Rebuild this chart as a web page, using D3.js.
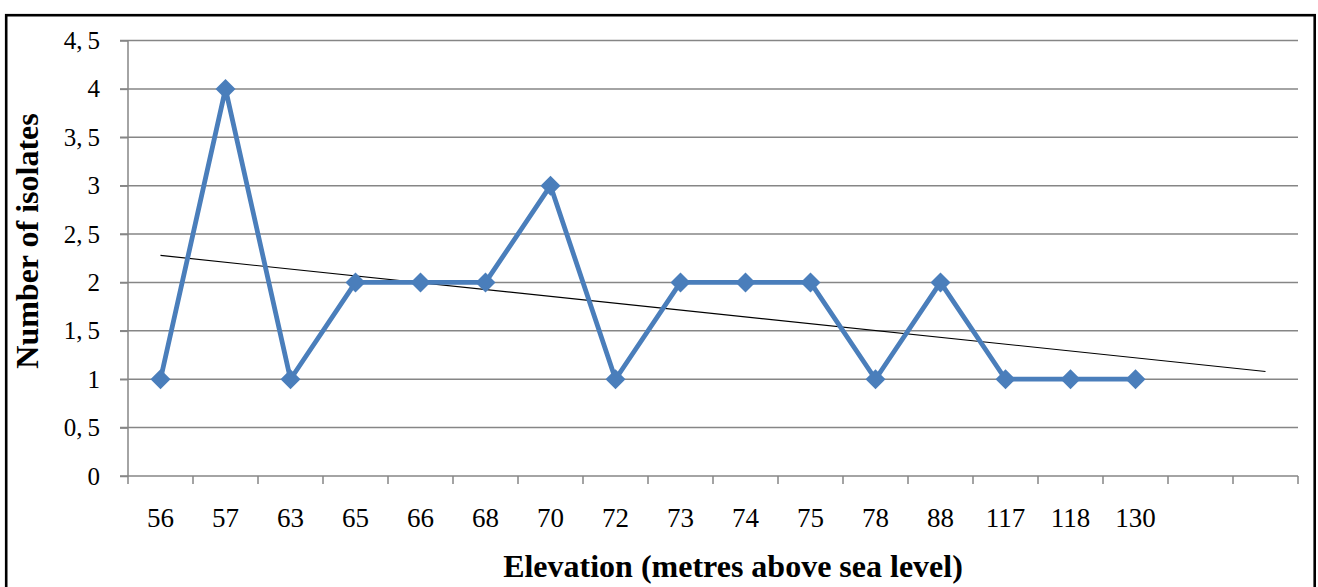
<!DOCTYPE html>
<html><head><meta charset="utf-8">
<script src="https://cdn.jsdelivr.net/npm/d3@7"></script>
<style>body{margin:0;background:#fff}svg{display:block}</style>
</head><body>
<script>
const categories = ["56","57","63","65","66","68","70","72","73","74","75","78","88","117","118","130","",""];
const isolates = [1,4,1,2,2,2,3,1,2,2,2,1,2,1,1,1];
const yTicks = [0,0.5,1,1.5,2,2.5,3,3.5,4,4.5];
const yLabel = "Number of isolates";
const xLabel = "Elevation (metres above sea level)";

const W = 1318, H = 587;
const svg = d3.select("body").append("svg").attr("width", W).attr("height", H);
const m = {l:128, r:1298, t:40.5, b:476};
const font = "'Liberation Serif','Times New Roman',serif";

svg.append("rect").attr("x",6.2).attr("y",15.2).attr("width",1308.5).attr("height",620)
  .attr("fill","none").attr("stroke","#000").attr("stroke-width",2.6);

const x = d3.scaleBand().domain(d3.range(categories.length)).range([m.l, m.r]);
const y = d3.scaleLinear().domain([0,4.5]).range([m.b, m.t]);

// gridlines
svg.append("g").selectAll("line").data(yTicks.filter(d=>d>0)).join("line")
  .attr("x1", m.l-8).attr("x2", m.r).attr("y1", d=>y(d)).attr("y2", d=>y(d))
  .attr("stroke","#868686").attr("stroke-width",1.5);

// y axis
const ya = svg.append("g").attr("transform",`translate(${m.l},0)`)
  .call(d3.axisLeft(y).tickValues(yTicks).tickSize(8).tickPadding(20)
        .tickFormat(d=>String(d).replace(".",",\u2009")));
ya.select(".domain").attr("stroke","#868686").attr("stroke-width",1.5).attr("d",`M0,${m.t}V${m.b}`);
ya.selectAll(".tick line").attr("stroke","#868686").attr("stroke-width",1.5);
ya.selectAll("text").attr("font-family",font).attr("font-size",25).attr("fill","#000");

// x axis
const xa = svg.append("g").attr("transform",`translate(0,${m.b})`);
xa.append("line").attr("x1",m.l-8).attr("x2",m.r).attr("stroke","#868686").attr("stroke-width",1.5);
const edges = d3.range(categories.length+1).map(i => m.l + i*x.step());
xa.selectAll("line.t").data(edges).join("line").attr("class","t")
  .attr("x1",d=>d).attr("x2",d=>d).attr("y1",0).attr("y2",8)
  .attr("stroke","#868686").attr("stroke-width",1.5);
xa.selectAll("text").data(categories).join("text")
  .attr("x",(d,i)=>x(i)+x.bandwidth()/2).attr("y",51)
  .attr("text-anchor","middle").attr("font-family",font).attr("font-size",27).text(d=>d);

// trend line (least squares over data)
const n = isolates.length;
const xs = d3.range(1,n+1);
const mx = d3.mean(xs), my = d3.mean(isolates);
const slope = d3.sum(xs,(v,i)=>(v-mx)*(isolates[i]-my)) / d3.sum(xs,v=>(v-mx)*(v-mx));
const trend = k => my + slope*(k+1-mx);
const cx = i => x(i)+x.bandwidth()/2;
svg.append("line").attr("x1",cx(0)).attr("y1",y(trend(0)))
  .attr("x2",cx(categories.length-1)).attr("y2",y(trend(categories.length-1)))
  .attr("stroke","#000").attr("stroke-width",1.1);

// series
svg.append("path").datum(isolates)
  .attr("d", d3.line().x((d,i)=>cx(i)).y(d=>y(d)))
  .attr("fill","none").attr("stroke","#4a7ebb").attr("stroke-width",4.8).attr("stroke-linejoin","round");
svg.append("g").selectAll("path").data(isolates).join("path")
  .attr("transform",(d,i)=>`translate(${cx(i)},${y(d)})`)
  .attr("d","M0,-10L10,0L0,10L-10,0Z").attr("fill","#4a7ebb");

// axis titles
svg.append("text").attr("transform","translate(38,241) rotate(-90)")
  .attr("text-anchor","middle").attr("font-family",font).attr("font-weight","bold")
  .attr("font-size",32).text(yLabel);
svg.append("text").attr("x",733).attr("y",577).attr("text-anchor","middle")
  .attr("font-family",font).attr("font-weight","bold").attr("font-size",32).text(xLabel);
</script>
</body></html>
